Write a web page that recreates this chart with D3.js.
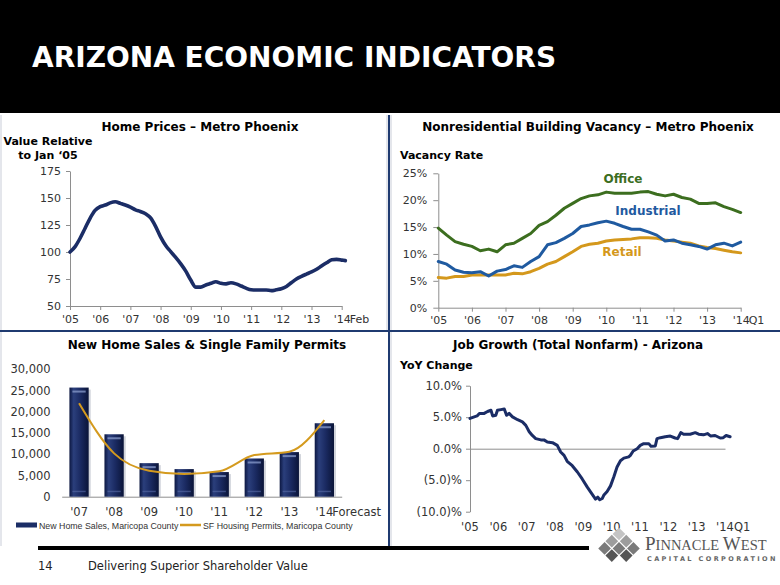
<!DOCTYPE html>
<html><head><meta charset="utf-8">
<script src="https://cdn.jsdelivr.net/npm/d3@7"></script>
<style>body{margin:0;background:#fff}svg{display:block}</style>
</head><body>
<svg id="c" width="780" height="585"></svg>
<script>
// ---------- DATA ----------
const hpDates  = [2005.0,2005.17,2005.33,2005.5,2005.66,2005.83,2006.0,2006.17,2006.33,2006.5,2006.67,2006.83,2007.0,2007.17,2007.33,2007.5,2007.67,2007.83,2008.0,2008.17,2008.33,2008.5,2008.67,2008.83,2009.0,2009.17,2009.33,2009.5,2009.67,2009.83,2010.0,2010.17,2010.33,2010.5,2010.67,2010.83,2011.0,2011.17,2011.33,2011.5,2011.67,2011.83,2012.0,2012.17,2012.33,2012.5,2012.67,2012.83,2013.0,2013.17,2013.33,2013.5,2013.67,2013.83,2014.0,2014.12];
const hpValues = [100,105,112.5,122,131,138.5,142,143.5,145.5,146.5,145,143.5,141.5,139,137.5,135.5,131.5,124,114,106,100.5,95,89,82.5,74,67.5,67.5,69.5,71,72.5,71,70.5,71.5,70.5,68.5,66.5,65,64.8,64.8,64.8,64.2,65,66,68,71.5,75,77.5,79.5,81.5,84,87,90,92.8,93.2,92.5,92];
const hpTickYears  = [2005,2006,2007,2008,2009,2010,2011,2012,2013,2014];
const hpTickLabels = ["'05","'06","'07","'08","'09","'10","'11","'12","'13","'14"];
const hpYTicks = [50,75,100,125,150,175];

const vacQuarters = ["05Q1","05Q2","05Q3","05Q4","06Q1","06Q2","06Q3","06Q4","07Q1","07Q2","07Q3","07Q4","08Q1","08Q2","08Q3","08Q4","09Q1","09Q2","09Q3","09Q4","10Q1","10Q2","10Q3","10Q4","11Q1","11Q2","11Q3","11Q4","12Q1","12Q2","12Q3","12Q4","13Q1","13Q2","13Q3","13Q4","14Q1"];
const vacOffice     = [14.8,13.5,12.3,11.8,11.4,10.6,10.9,10.4,11.7,12.0,12.9,13.8,15.3,16.0,17.2,18.5,19.4,20.3,20.8,21.0,21.5,21.3,21.3,21.3,21.5,21.6,21.1,20.8,21.1,20.5,20.2,19.4,19.4,19.5,18.8,18.3,17.7];
const vacIndustrial = [8.6,8.1,7.0,6.6,6.5,6.7,5.9,6.8,7.1,7.8,7.5,8.6,9.5,11.7,12.1,12.9,13.8,15.1,15.4,15.8,16.1,15.7,15.1,14.6,14.6,14.1,13.5,12.4,12.6,12.0,11.7,11.4,10.9,11.7,12.0,11.5,12.2];
const vacRetail     = [5.6,5.5,5.8,5.8,6.1,6.1,6.1,6.1,6.1,6.4,6.3,6.7,7.3,8.1,8.6,9.5,10.4,11.4,11.8,12.0,12.4,12.6,12.7,12.8,13.0,13.0,12.9,12.6,12.4,12.2,12.0,11.5,11.2,11.0,10.7,10.4,10.2];
const vacTickQuarters = ["05Q1","06Q1","07Q1","08Q1","09Q1","10Q1","11Q1","12Q1","13Q1","14Q1"];
const vacTickLabels   = ["'05","'06","'07","'08","'09","'10","'11","'12","'13","'14"];
const vacYTicks = [0,5,10,15,20,25];

const salesYears   = ["'07","'08","'09","'10","'11","'12","'13","'14"];
const salesValues  = [25700,14700,7900,6500,5800,9000,10500,17300];
const permitValues = [22000,10200,6100,5340,5970,9800,10600,18060];
const salesYTicks  = [0,5000,10000,15000,20000,25000,30000];

const jobDates  = [2005.0,2005.15,2005.25,2005.33,2005.5,2005.62,2005.74,2005.8,2005.91,2005.97,2006.09,2006.21,2006.29,2006.38,2006.5,2006.68,2006.85,2006.97,2007.09,2007.2,2007.32,2007.5,2007.61,2007.73,2007.91,2008.08,2008.2,2008.32,2008.43,2008.61,2008.79,2008.96,2009.14,2009.26,2009.37,2009.43,2009.51,2009.58,2009.67,2009.72,2009.84,2009.96,2010.08,2010.19,2010.31,2010.43,2010.6,2010.66,2010.76,2010.9,2011.01,2011.13,2011.31,2011.39,2011.54,2011.6,2011.72,2011.89,2012.07,2012.24,2012.33,2012.44,2012.54,2012.77,2012.95,2013.07,2013.24,2013.38,2013.5,2013.65,2013.83,2013.94,2014.04,2014.18];
const jobValues = [4.8,5.05,5.2,5.6,5.6,5.9,6.1,5.2,5.3,6.1,6.2,6.3,5.3,5.6,5.05,4.6,4.25,3.7,2.7,2.1,1.6,1.4,1.4,1.06,0.96,0.53,-0.53,-1.06,-2.0,-2.7,-3.7,-4.8,-6.1,-6.9,-7.6,-8.0,-7.7,-8.1,-7.9,-7.4,-6.8,-5.9,-4.4,-2.9,-1.9,-1.5,-1.3,-1.06,-0.37,0,0.53,0.8,0.8,0.37,0.43,1.6,1.75,1.9,2.0,1.7,1.6,2.55,2.3,2.3,2.55,2.3,2.2,2.4,2.0,2.1,1.7,1.75,2.1,1.9];
const jobTickYears  = [2005,2006,2007,2008,2009,2010,2011,2012,2013,2014];
const jobTickLabels = ["'05","'06","'07","'08","'09","'10","'11","'12","'13","'14"];
const jobYTicks = [-10,-5,0,5,10];

// ---------- SETUP ----------
const svg = d3.select("#c");
const F = "'DejaVu Sans', Verdana, sans-serif";
const NAVY = "#1b2d66", AXIS = "#8e8e8e", TXT = "#333";
const C_OFF = "#3c6e1f", C_IND = "#1f5aa0", C_RET = "#d4981c", GOLD = "#d49a1e";

function styleAxis(g, size){
  g.attr("color", AXIS);
  g.selectAll("text").attr("fill", TXT).style("font-family", F).style("font-size", size+"px");
}
function txt(x,y,s,opt={}){
  return svg.append("text").attr("x",x).attr("y",y).text(s)
    .style("font-family",opt.font||F).style("font-size",(opt.size||12)+"px")
    .style("font-weight",opt.bold?"bold":"normal").attr("fill",opt.fill||"#000")
    .attr("text-anchor",opt.anchor||"start");
}

// header
svg.append("rect").attr("x",0).attr("y",0).attr("width",780).attr("height",113).attr("fill","#000");
txt(32,67,"ARIZONA ECONOMIC INDICATORS",{size:28,bold:true,fill:"#fff"});

// panel frames
[[1,115,1,546],[387,115,387,331],[391,115,391,546]].forEach(l=>{
  svg.append("line").attr("x1",l[0]).attr("y1",l[1]).attr("x2",l[2]).attr("y2",l[3]).attr("stroke","#c9cdd8").attr("stroke-width",1);
});
svg.append("line").attr("x1",389).attr("y1",115).attr("x2",389).attr("y2",547).attr("stroke","#1f3a70").attr("stroke-width",2);
svg.append("line").attr("x1",0).attr("y1",331).attr("x2",780).attr("y2",331).attr("stroke","#1f3a70").attr("stroke-width",2);

// ---------- CHART 1: Home prices ----------
{
  const x = d3.scaleLinear().domain([2005,2014]).range([70,341.7]);
  const y = d3.scaleLinear().domain([50,175]).range([306,171]);
  txt(200,131,"Home Prices \u2013 Metro Phoenix",{size:12,bold:true,anchor:"middle"});
  txt(48,145,"Value Relative",{size:11,bold:true,anchor:"middle"});
  txt(48,159,"to Jan \u201805",{size:11,bold:true,anchor:"middle"});
  const gx = svg.append("g").attr("transform","translate(0,306)")
    .call(d3.axisBottom(x).tickValues(hpTickYears).tickFormat((d,i)=>hpTickLabels[i]).tickSize(4).tickSizeOuter(0).tickPadding(5));
  styleAxis(gx,11);
  const gy = svg.append("g").attr("transform","translate(70,0)")
    .call(d3.axisLeft(y).tickValues(hpYTicks).tickSize(4).tickSizeOuter(0).tickPadding(5));
  styleAxis(gy,11);
  txt(x(2014)+8,323,"Feb",{size:11,fill:TXT});
  svg.append("path").datum(hpDates.map((d,i)=>[d,hpValues[i]]))
    .attr("fill","none").attr("stroke",NAVY).attr("stroke-width",3.6).attr("stroke-linejoin","round").attr("stroke-linecap","round")
    .attr("d",d3.line().x(d=>x(d[0])).y(d=>y(d[1])).curve(d3.curveMonotoneX));
}

// ---------- CHART 2: Vacancy ----------
{
  const x = d3.scalePoint().domain(vacQuarters).range([438.3,740.7]);
  const y = d3.scaleLinear().domain([0,25]).range([307.7,173.3]);
  txt(588,131,"Nonresidential Building Vacancy \u2013 Metro Phoenix",{size:12,bold:true,anchor:"middle"});
  txt(400,159,"Vacancy Rate",{size:11,bold:true});
  const gx = svg.append("g").attr("transform","translate(0,307.7)")
    .call(d3.axisBottom(x).tickValues(vacTickQuarters).tickFormat((d,i)=>vacTickLabels[i]).tickSize(4).tickSizeOuter(0).tickPadding(5));
  styleAxis(gx,11);
  const gy = svg.append("g").attr("transform","translate(438.3,0)")
    .call(d3.axisLeft(y).tickValues(vacYTicks).tickFormat(d=>d+"%").tickSize(5).tickSizeOuter(0).tickPadding(6));
  styleAxis(gy,11);
  txt(x("14Q1")+8,324,"Q1",{size:11,fill:TXT});
  const line = d3.line().x(d=>x(d[0])).y(d=>y(d[1]));
  [[vacRetail,C_RET],[vacIndustrial,C_IND],[vacOffice,C_OFF]].forEach(([vals,col])=>{
    svg.append("path").datum(vacQuarters.map((q,i)=>[q,vals[i]]))
      .attr("fill","none").attr("stroke",col).attr("stroke-width",3).attr("stroke-linejoin","round").attr("stroke-linecap","round")
      .attr("d",line);
  });
  txt(623,183,"Office",{size:12,bold:true,fill:C_OFF,anchor:"middle"});
  txt(648,215,"Industrial",{size:12,bold:true,fill:C_IND,anchor:"middle"});
  txt(622,256,"Retail",{size:12,bold:true,fill:C_RET,anchor:"middle"});
}

// ---------- CHART 3: New home sales & permits ----------
{
  const x = d3.scaleBand().domain(salesYears).range([61.7,341.7]).paddingInner(0.45).paddingOuter(0.22);
  const y = d3.scaleLinear().domain([0,30000]).range([496.7,369.3]);
  txt(207,349,"New Home Sales & Single Family Permits",{size:12,bold:true,anchor:"middle"});
  const defs = svg.append("defs");
  const gr = defs.append("linearGradient").attr("id","barG").attr("x1",0).attr("x2",1).attr("y1",0).attr("y2",0);
  [["0%","#0c1741"],["22%","#2b3f7c"],["55%","#1b2b63"],["100%","#0a1438"]].forEach(s=>gr.append("stop").attr("offset",s[0]).attr("stop-color",s[1]));
  const gy = svg.append("g").attr("transform","translate(61.7,0)")
    .call(d3.axisLeft(y).tickValues(salesYTicks).tickFormat(d3.format(",")).tickSize(0).tickPadding(11));
  styleAxis(gy,11.5); gy.select(".domain").remove();
  const gx = svg.append("g").attr("transform","translate(0,496.7)")
    .call(d3.axisBottom(x).tickSize(0).tickPadding(11));
  styleAxis(gx,11.5);
  txt(x("'14")+x.bandwidth()/2+8,516,"Forecast",{size:11.5,fill:TXT});
  const bars = svg.append("g");
  salesYears.forEach((c,i)=>{
    const bx = x(c), bw = x.bandwidth(), by = y(salesValues[i]), bh = y(0)-y(salesValues[i]);
    bars.append("rect").attr("x",bx+2).attr("y",by+2).attr("width",bw).attr("height",bh-2).attr("fill","#9aa0b0").attr("opacity",0.45);
    bars.append("rect").attr("x",bx).attr("y",by).attr("width",bw).attr("height",bh).attr("fill","url(#barG)");
    bars.append("rect").attr("x",bx+3).attr("y",by+3).attr("width",bw-6).attr("height",2).attr("fill","#8a9ccc").attr("opacity",0.75);
    bars.append("rect").attr("x",bx+3).attr("y",y(0)-6).attr("width",bw-6).attr("height",1.5).attr("fill","#5a6da6").attr("opacity",0.6);
  });
  svg.append("path").datum(salesYears.map((c,i)=>[c,permitValues[i]]))
    .attr("fill","none").attr("stroke",GOLD).attr("stroke-width",2)
    .attr("d",d3.line().x(d=>x(d[0])+x.bandwidth()/2).y(d=>y(d[1])).curve(d3.curveMonotoneX));
  // legend
  svg.append("rect").attr("x",16).attr("y",522.5).attr("width",21).attr("height",5).attr("fill",NAVY);
  txt(39,528.5,"New Home Sales, Maricopa County",{size:8.8,font:"'Liberation Sans', Arial, sans-serif",fill:"#333"});
  svg.append("line").attr("x1",180).attr("x2",201).attr("y1",525).attr("y2",525).attr("stroke",GOLD).attr("stroke-width",2.5);
  txt(203,528.5,"SF Housing Permits, Maricopa County",{size:8.8,font:"'Liberation Sans', Arial, sans-serif",fill:"#333"});
}

// ---------- CHART 4: Job growth ----------
{
  const x = d3.scaleLinear().domain([2005,2014]).range([470,725]);
  const y = d3.scaleLinear().domain([-10,10]).range([511.7,385.7]);
  txt(578,349,"Job Growth (Total Nonfarm) - Arizona",{size:12,bold:true,anchor:"middle"});
  txt(400,369,"YoY Change",{size:11,bold:true});
  const gy = svg.append("g").attr("transform","translate(470,0)")
    .call(d3.axisLeft(y).tickValues(jobYTicks).tickFormat(d=>d<0?"("+d3.format(".1f")(-d)+")%":d3.format(".1f")(d)+"%").tickSize(4).tickSizeOuter(0).tickPadding(4));
  styleAxis(gy,11.5);
  const gz = svg.append("g").attr("transform","translate(0,"+y(0)+")")
    .call(d3.axisBottom(x).tickValues(jobTickYears).tickFormat("").tickSize(0).tickSizeOuter(0));
  gz.attr("color",AXIS);
  jobTickYears.forEach((d,i)=>txt(x(d),531,jobTickLabels[i],{size:11.5,fill:TXT,anchor:"middle"}));
  txt(x(2014)+9,531,"Q1",{size:11.5,fill:TXT});
  svg.append("path").datum(jobDates.map((d,i)=>[d,jobValues[i]]))
    .attr("fill","none").attr("stroke",NAVY).attr("stroke-width",3).attr("stroke-linejoin","round").attr("stroke-linecap","round")
    .attr("d",d3.line().x(d=>x(d[0])).y(d=>y(d[1])));
}

// ---------- FOOTER ----------
svg.append("rect").attr("x",38).attr("y",546).attr("width",551).attr("height",4).attr("fill","#000");
txt(38,570,"14",{size:11.5,fill:"#222"});
txt(88,570,"Delivering Superior Shareholder Value",{size:11.5,fill:"#222"});
// logo
{
  const lg = svg.append("g").attr("transform","translate(619,541)");
  const rows = [[0],[-1,1],[-2,0,2],[-1,1]];
  const shades = ["#c4c4c4","#9d9d9d","#7a7a7a","#555"];
  rows.forEach((r,ri)=>r.forEach(c=>{
    lg.append("rect").attr("x",-4.5).attr("y",-4.5).attr("width",9).attr("height",9)
      .attr("transform","translate("+(c*7.2)+","+(ri*7.2-7)+") rotate(45)").attr("fill",shades[ri]);
  }));
  const t = svg.append("text").attr("x",645).attr("y",550).attr("fill","#555").style("font-family","'Liberation Serif', 'DejaVu Serif', serif");
  t.append("tspan").text("P").style("font-size","19px");
  t.append("tspan").text("INNACLE ").style("font-size","14.5px");
  t.append("tspan").text("W").style("font-size","19px");
  t.append("tspan").text("EST").style("font-size","14.5px");
  txt(647,561,"CAPITAL CORPORATION",{size:6.5,fill:"#666",bold:true}).style("letter-spacing","2.4px");
}
</script>
</body></html>
